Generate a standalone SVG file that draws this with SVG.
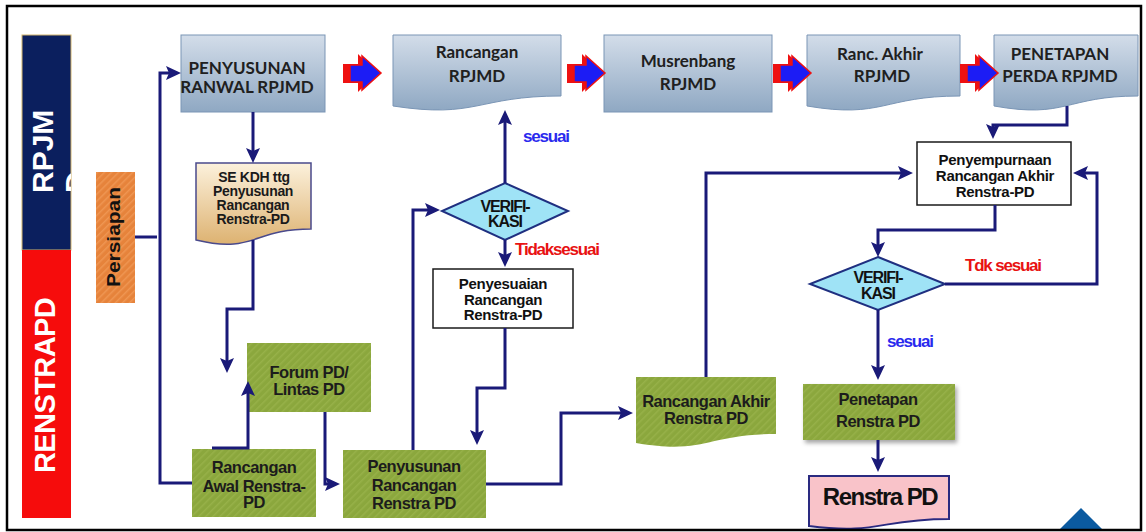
<svg xmlns="http://www.w3.org/2000/svg" xmlns:xlink="http://www.w3.org/1999/xlink" width="1146" height="532" viewBox="0 0 1146 532">
  <defs>
    <style>
      .conn { fill: none; stroke: #1a1a78; stroke-width: 3; stroke-linejoin: miter; }
      .arr { marker-end: url(#ah); }
      .top { fill: url(#gTop); stroke: #7a95b5; stroke-width: 1; }
      .green { fill: url(#hatchG); }
      .white { fill: #ffffff; stroke: #1a1a1a; stroke-width: 1.5; }
      .dia { fill: #9fe3f6; stroke: #1f2f80; stroke-width: 2; }
      .tt { font-family: Lato, "Liberation Sans", sans-serif; font-weight: bold; font-size: 17px; fill: #202020; text-anchor: middle; }
      .gt { font-family: "Liberation Sans", Arial, sans-serif; font-weight: bold; font-size: 16.5px; letter-spacing: -0.5px; fill: #1c1c1c; text-anchor: middle; }
      .wt { font-family: "Liberation Sans", Arial, sans-serif; font-weight: bold; font-size: 15px; letter-spacing: -0.3px; fill: #111111; text-anchor: middle; }
      .st { font-family: "Liberation Sans", Arial, sans-serif; font-weight: bold; font-size: 14px; letter-spacing: -0.3px; fill: #1a1a1a; text-anchor: middle; }
      .dt { font-family: "Liberation Sans", Arial, sans-serif; font-weight: bold; font-size: 16px; letter-spacing: -1.1px; fill: #111111; text-anchor: middle; }
      .lbl { font-family: "Liberation Sans", Arial, sans-serif; font-weight: bold; font-size: 17px; letter-spacing: -1.2px; }
      .yes { fill: #2a2aee; }
      .no { fill: #e81212; }
      .bar { font-family: "Liberation Sans", Arial, sans-serif; font-weight: bold; fill: #ffffff; }
    </style>
    <linearGradient id="gTop" x1="0" y1="0" x2="0" y2="1">
      <stop offset="0" stop-color="#d3dde9"/>
      <stop offset="1" stop-color="#8fa8c3"/>
    </linearGradient>
    <linearGradient id="gCream" x1="0" y1="0" x2="0" y2="1">
      <stop offset="0" stop-color="#fcf1dc"/>
      <stop offset="1" stop-color="#ddb271"/>
    </linearGradient>
    <pattern id="hatchG" width="5" height="5" patternUnits="userSpaceOnUse" patternTransform="rotate(45)">
      <rect width="5" height="5" fill="#8ba73d"/>
      <rect width="1.5" height="5" fill="#97b149"/>
    </pattern>
    <pattern id="hatchO" width="5" height="5" patternUnits="userSpaceOnUse" patternTransform="rotate(45)">
      <rect width="5" height="5" fill="#e6833b"/>
      <rect width="1.5" height="5" fill="#ef9652"/>
    </pattern>
    <marker id="ah" markerUnits="userSpaceOnUse" markerWidth="15" markerHeight="14" refX="10" refY="7" orient="auto">
      <path d="M0,0 L15,7 L0,14 L3,7 Z" fill="#1a1a78"/>
    </marker>
    <filter id="sh" x="-10%" y="-10%" width="130%" height="140%">
      <feDropShadow dx="2" dy="3" stdDeviation="2" flood-color="#000" flood-opacity="0.35"/>
    </filter>
    <clipPath id="clipNavy"><rect x="22" y="35" width="49" height="215"/></clipPath>
    <!-- red/blue block arrow used between the top-row steps -->
    <g id="bigArr">
      <polygon points="0,10 15,10 15,0 34,19 15,38 15,29 0,29" fill="#ee1111"/>
      <polygon points="7,11 19,11 19,2 38,19 19,36 19,28 7,28" fill="#1c1cf5" stroke="#ee1111" stroke-width="1.5"/>
    </g>
  </defs>

  <rect width="1146" height="532" fill="#ffffff"/>

  <!-- side bands -->
  <g id="band-rpjmd">
    <rect x="22" y="35" width="49" height="215" fill="#0b1f5e" stroke="#d2b46c" stroke-width="1"/>
    <g clip-path="url(#clipNavy)">
      <text class="bar" font-size="30" transform="translate(53,193) rotate(-90)">RPJM</text>
      <text class="bar" font-size="30" transform="translate(86,193) rotate(-90)">D</text>
    </g>
  </g>
  <g id="band-renstra">
    <rect x="22" y="250" width="49" height="268" fill="#f60c0c"/>
    <text class="bar" font-size="29" letter-spacing="-0.6" transform="translate(55,473) rotate(-90)">RENSTRAPD</text>
  </g>

  <!-- top row -->
  <g id="n-penyusunan-ranwal">
    <rect class="top" x="181" y="35" width="144" height="77"/>
    <text class="tt" x="247" y="74" font-size="16">PENYUSUNAN</text>
    <text class="tt" x="247" y="93" font-size="16">RANWAL RPJMD</text>
  </g>
  <g id="n-rancangan-rpjmd">
    <path class="top" d="M393,35 H561 V96 C477,96 477,119 393,106 Z"/>
    <text class="tt" x="477" y="58">Rancangan</text>
    <text class="tt" x="477" y="82">RPJMD</text>
  </g>
  <g id="n-musrenbang">
    <rect class="top" x="604" y="35" width="168" height="77"/>
    <text class="tt" x="688" y="67">Musrenbang</text>
    <text class="tt" x="688" y="90">RPJMD</text>
  </g>
  <g id="n-ranc-akhir">
    <path class="top" d="M807,35 H960 V96 C883,96 883,119 807,106 Z"/>
    <text class="tt" x="880" y="60">Ranc. Akhir</text>
    <text class="tt" x="882" y="82">RPJMD</text>
  </g>
  <g id="n-penetapan-perda">
    <path class="top" d="M994,35 H1138 V96 C1066,96 1066,119 994,106 Z"/>
    <text class="tt" x="1060" y="60">PENETAPAN</text>
    <text class="tt" x="1060" y="82">PERDA RPJMD</text>
  </g>

  <g id="top-arrows">
    <use xlink:href="#bigArr" transform="translate(343,54)"/>
    <use xlink:href="#bigArr" transform="translate(567,54)"/>
    <use xlink:href="#bigArr" transform="translate(773,54)"/>
    <use xlink:href="#bigArr" transform="translate(960,54)"/>
  </g>

  <!-- renstra flow -->
  <g id="n-persiapan">
    <rect x="96" y="172" width="39" height="131" fill="url(#hatchO)"/>
    <text font-family="Liberation Sans, Arial, sans-serif" font-weight="bold" font-size="19" fill="#111" transform="translate(120,287) rotate(-90)" textLength="100" lengthAdjust="spacingAndGlyphs">Persiapan</text>
  </g>
  <g id="n-se-kdh">
    <path d="M196,163 H311 V229 C253.5,229 253.5,254 196,240 Z" fill="url(#gCream)" stroke="#4a4a8c" stroke-width="1.5"/>
    <text class="st" x="254" y="182" font-size="16">SE KDH ttg</text>
    <text class="st" x="253" y="196">Penyusunan</text>
    <text class="st" x="253" y="210">Rancangan</text>
    <text class="st" x="253" y="224">Renstra-PD</text>
  </g>
  <g id="n-forum">
    <rect class="green" x="247" y="343" width="124" height="69"/>
    <text class="gt" x="309" y="378">Forum PD/</text>
    <text class="gt" x="309" y="395">Lintas PD</text>
  </g>
  <g id="n-rancangan-awal">
    <rect class="green" x="192" y="449" width="124" height="68"/>
    <text class="gt" x="254" y="473">Rancangan</text>
    <text class="gt" x="254" y="492">Awal Renstra-</text>
    <text class="gt" x="254" y="508">PD</text>
  </g>
  <g id="n-penyusunan-rancangan">
    <rect class="green" x="343" y="450" width="143" height="68"/>
    <text class="gt" x="414" y="472">Penyusunan</text>
    <text class="gt" x="414" y="491">Rancangan</text>
    <text class="gt" x="414" y="509">Renstra PD</text>
  </g>
  <g id="n-verifikasi-1">
    <polygon class="dia" points="505,183 568,211 505,240 442,211"/>
    <text class="dt" x="505" y="212">VERIFI-</text>
    <text class="dt" x="505" y="227">KASI</text>
  </g>
  <g id="n-penyesuaian">
    <rect class="white" x="433" y="269" width="140" height="59"/>
    <text class="wt" x="503" y="289">Penyesuaian</text>
    <text class="wt" x="503" y="305">Rancangan</text>
    <text class="wt" x="503" y="320">Renstra-PD</text>
  </g>
  <g id="n-rancangan-akhir">
    <path class="green" d="M636,377 H776 V434 C706,434 706,455 636,443 Z"/>
    <text class="gt" x="706" y="407">Rancangan Akhir</text>
    <text class="gt" x="706" y="424">Renstra PD</text>
  </g>
  <g id="n-penyempurnaan">
    <rect class="white" x="917" y="142" width="154" height="63"/>
    <text class="wt" x="995" y="165">Penyempurnaan</text>
    <text class="wt" x="995" y="181">Rancangan Akhir</text>
    <text class="wt" x="995" y="197">Renstra-PD</text>
  </g>
  <g id="n-verifikasi-2">
    <polygon class="dia" points="878,257 945,284 878,310 810,284"/>
    <text class="dt" x="878" y="283">VERIFI-</text>
    <text class="dt" x="878" y="299">KASI</text>
  </g>
  <g id="n-penetapan-renstra">
    <rect class="green" x="803" y="384" width="152" height="56" filter="url(#sh)"/>
    <text class="gt" x="878" y="405">Penetapan</text>
    <text class="gt" x="878" y="427">Renstra PD</text>
  </g>
  <g id="n-renstra-pd">
    <path d="M809,476 H949 V519 C879,519 879,535 809,526 Z" fill="#f9c3c9" stroke="#2a2a80" stroke-width="2"/>
    <text font-family="Liberation Sans, Arial, sans-serif" font-weight="bold" font-size="24" letter-spacing="-1.5" fill="#111" text-anchor="middle" x="880" y="505">Renstra PD</text>
  </g>

  <!-- connectors -->
  <g id="connectors">
    <path class="conn arr" d="M192,483 H160 V73 H176"/>
    <path class="conn" d="M135,237 H157"/>
    <path class="conn arr" d="M253,112 V158"/>
    <path class="conn arr" d="M253,240 V309 H227 V368"/>
    <path class="conn arr" d="M212,448 H248 V386"/>
    <path class="conn arr" d="M325,412 V484 H335"/>
    <path class="conn arr" d="M413,450 V210 H435"/>
    <path class="conn arr" d="M505,183 V115"/>
    <path class="conn arr" d="M505,240 V262"/>
    <path class="conn arr" d="M505,328 V388 H477 V440"/>
    <path class="conn arr" d="M486,484 H561 V413 H628"/>
    <path class="conn arr" d="M706,377 V173 H908"/>
    <path class="conn arr" d="M1067,106 V125 H993 V134"/>
    <path class="conn arr" d="M995,205 V230 H878 V252"/>
    <path class="conn arr" d="M945,284 H1097 V173 H1078"/>
    <path class="conn arr" d="M878,310 V375"/>
    <path class="conn arr" d="M878,440 V467"/>
  </g>

  <g id="labels">
    <text class="lbl yes" x="523" y="142">sesuai</text>
    <text class="lbl no" x="515" y="255">Tidaksesuai</text>
    <text class="lbl no" x="965" y="271" letter-spacing="-1.5">Tdk sesuai</text>
    <text class="lbl yes" x="887" y="347">sesuai</text>
  </g>

  <polygon points="1081,508 1058,531 1104,531" fill="#0b5aa0"/>
  <rect x="7" y="6" width="1134" height="524" fill="none" stroke="#000000" stroke-width="2.5"/>
</svg>
